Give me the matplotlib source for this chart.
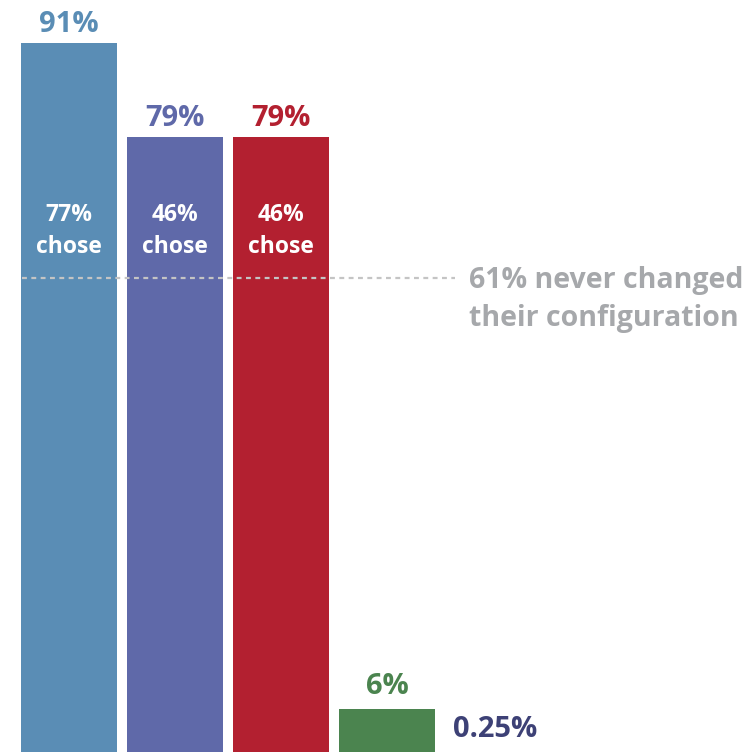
import matplotlib
matplotlib.use("Agg")
import matplotlib.pyplot as plt

values = [91, 79, 79, 6, 0.25]
labels = ["91%", "79%", "79%", "6%", "0.25%"]
inner_labels = ["77%\nchose", "46%\nchose", "46%\nchose", None, None]
colors = ["#5a8db5", "#5f69a9", "#b32030", "#4b844f", "#3d4176"]
ref_value = 61
ref_text = "61% never changed\ntheir configuration"

plt.rcParams['font.family'] = ['Open Sans', 'DejaVu Sans']

fig = plt.figure(figsize=(7.46, 7.52), dpi=100)
ax = fig.add_axes([0, 0, 1, 1])
x = list(range(len(values)))
ax.bar(x, values, width=0.906, color=colors, zorder=1)

for xi, v, lab, c in zip(x, values, labels, colors):
    off = {3: 5.5, 4: 7}.get(xi, 3)
    ax.annotate(lab, (xi, v), xytext=(1.5 if xi == 4 else 0, off), textcoords='offset points',
                ha='center', va='bottom', fontsize=21, fontweight='bold', color=c,
                annotation_clip=False)

for xi, lab in zip(x, inner_labels):
    if lab:
        ax.text(xi, 67.0, lab, ha='center', va='center', fontsize=16.5,
                fontweight='bold', color='white', linespacing=1.45)

ax.plot([-0.443, 3.64], [ref_value, ref_value], linestyle=(0, (2.2, 2.0)),
        color='#c4c4c4', linewidth=1.6, zorder=2)
ax.text(3.774, 58.3, ref_text, ha='left', va='center', fontsize=20.5,
        fontweight='bold', color='#a6a8ab', linespacing=1.4)

ax.set_xlim(-0.651, 6.387)
ax.set_ylim(0.5, 96.5)
ax.axis('off')
fig.savefig("out.png", dpi=100)
